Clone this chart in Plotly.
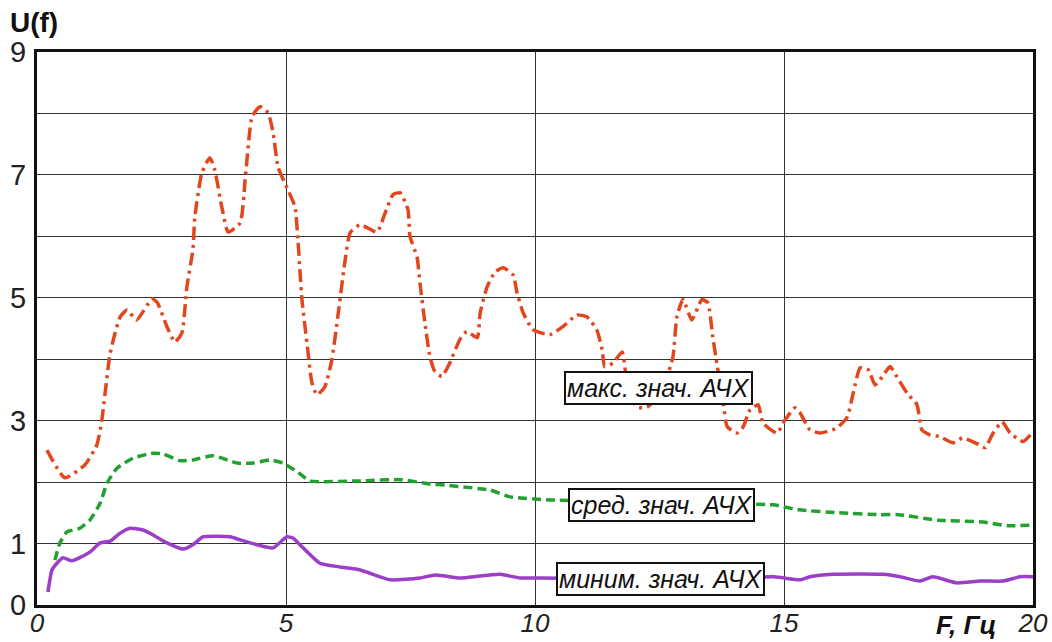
import plotly.graph_objects as go

# Frequency response envelopes U(f) vs frequency F (Hz)
max_f = [0.2, 0.56, 0.96, 1.2, 1.3, 1.47, 1.67, 1.81, 2.0, 2.31, 2.41, 2.61, 2.77, 2.91, 3.01,
         3.13, 3.17, 3.31, 3.47, 3.57, 3.71, 3.84, 4.08, 4.18, 4.32, 4.48, 4.64, 4.74, 4.84,
         5.02, 5.18, 5.24, 5.32, 5.42, 5.52, 5.62, 5.78, 5.92, 6.04, 6.18, 6.29, 6.49, 6.83,
         6.99, 7.15, 7.29, 7.45, 7.49, 7.63, 7.69, 7.79, 7.89, 7.99, 8.13, 8.29, 8.49, 8.63,
         8.84, 8.9, 9.04, 9.2, 9.36, 9.56, 9.64, 9.76, 9.96, 10.3, 10.56, 10.84, 11.04, 11.24,
         11.35, 11.4, 11.57, 11.75, 11.85, 12.05, 12.25, 12.45, 12.65, 12.77, 12.85, 12.97,
         13.15, 13.35, 13.47, 13.57, 13.65, 13.78, 13.86, 14.06, 14.18, 14.32, 14.48, 14.58,
         14.86, 15.02, 15.22, 15.32, 15.52, 15.72, 16.06, 16.27, 16.39, 16.53, 16.69, 16.83,
         16.97, 17.13, 17.27, 17.47, 17.67, 17.77, 17.93, 18.13, 18.39, 18.59, 18.94, 19.04,
         19.2, 19.38, 19.54, 19.8, 20.0]
max_u = [2.52, 2.07, 2.28, 2.6, 3.0, 4.1, 4.69, 4.8, 4.64, 4.98, 4.93, 4.53, 4.28, 4.43, 5.18,
         5.78, 6.32, 7.03, 7.28, 7.08, 6.48, 6.07, 6.22, 6.92, 7.95, 8.11, 8.01, 7.69, 7.13,
         6.79, 6.48, 5.94, 4.97, 4.27, 3.62, 3.42, 3.55, 3.99, 4.69, 5.57, 6.06, 6.19, 6.07,
         6.38, 6.68, 6.71, 6.43, 6.0, 5.67, 5.24, 4.59, 4.04, 3.8, 3.72, 3.94, 4.32, 4.45,
         4.35, 4.76, 5.18, 5.42, 5.49, 5.37, 5.08, 4.76, 4.48, 4.4, 4.53, 4.72, 4.69, 4.48,
         4.15, 3.88, 3.94, 4.12, 3.6, 3.22, 3.22, 3.39, 3.71, 4.04, 4.69, 4.97,
         4.64, 4.97, 4.92, 4.36, 3.94, 3.29, 2.9, 2.8, 2.9, 3.18, 3.26, 2.96,
         2.8, 3.01, 3.21, 3.13, 2.85, 2.8, 2.88, 3.06, 3.45, 3.86, 3.83, 3.58,
         3.71, 3.88, 3.71, 3.45, 3.26, 2.85, 2.77, 2.74, 2.64, 2.72, 2.6, 2.56,
         2.8, 2.98, 2.8, 2.66, 2.82]

avg_f = [0.36, 0.46, 0.6, 0.86, 1.06, 1.27, 1.41, 1.61, 1.93, 2.33, 2.53, 2.87, 3.13, 3.53,
         4.02, 4.34, 4.68, 4.94, 5.22, 5.48, 6.5, 7.3, 7.9, 8.2, 9.1, 9.5, 10.3, 11.5, 12.5,
         13.5, 14.78, 15.3, 16.1, 16.9, 17.3, 18.1, 19.0, 19.5, 20.0]
avg_u = [0.73, 1.01, 1.19, 1.25, 1.38, 1.66, 1.99, 2.23, 2.39, 2.47, 2.46, 2.35, 2.36, 2.43,
         2.31, 2.31, 2.36, 2.31, 2.17, 2.02, 2.02, 2.04, 1.97, 1.95, 1.87, 1.76, 1.71, 1.69, 1.67,
         1.65, 1.63, 1.55, 1.5, 1.47, 1.47, 1.38, 1.35, 1.29, 1.3]

min_f = [0.22, 0.3, 0.4, 0.52, 0.7, 0.86, 1.06, 1.27, 1.47, 1.67, 1.87, 2.13, 2.33, 2.61, 2.93,
         3.13, 3.33, 3.61, 3.88, 4.08, 4.42, 4.74, 5.02, 5.14, 5.28, 5.68, 6.08, 6.49, 7.09,
         7.69, 8.0, 8.5, 9.1, 9.3, 9.7, 10.1, 11.0, 12.0, 13.0, 14.0, 14.8, 15.32, 15.52,
         15.98, 16.99, 17.33, 17.73, 17.99, 18.47, 18.94, 19.4, 19.74, 20.0]
min_u = [0.21, 0.57, 0.68, 0.77, 0.72, 0.77, 0.86, 1.01, 1.04, 1.17, 1.25, 1.22, 1.14, 1.01, 0.91,
         0.98, 1.11, 1.12, 1.11, 1.06, 0.98, 0.93, 1.11, 1.09, 0.98, 0.68, 0.62, 0.57, 0.41,
         0.44, 0.49, 0.44, 0.49, 0.5, 0.44, 0.44, 0.43, 0.42, 0.42, 0.44, 0.46, 0.41, 0.46,
         0.5, 0.5, 0.46, 0.39, 0.46, 0.36, 0.39, 0.39, 0.46, 0.46]

y_ticks = list(range(0, 10))
y_ticktext = ["0", "1", "", "3", "", "5", "", "7", "", "9"]
x_ticks = [0, 5, 10, 15, 20]

curve_labels = ["макс. знач. АЧХ", "сред. знач. АЧХ", "миним. знач. АЧХ"]
label_pos = [(12.47, 3.53), (12.55, 1.63), (12.51, 0.42)]

FONT = "Liberation Sans, Arial"

fig = go.Figure()
fig.add_trace(go.Scatter(x=max_f, y=max_u, mode="lines",
                         line=dict(color="#E2461E", width=3.5, dash="13px,5px,3px,5px",
                                   shape="spline", smoothing=0.5)))
fig.add_trace(go.Scatter(x=avg_f, y=avg_u, mode="lines",
                         line=dict(color="#22A030", width=3.5, dash="9px,5px",
                                   shape="spline", smoothing=0.5)))
fig.add_trace(go.Scatter(x=min_f, y=min_u, mode="lines",
                         line=dict(color="#9A3FC6", width=3.5, shape="spline", smoothing=0.5)))

for text, (lx, ly) in zip(curve_labels, label_pos):
    fig.add_annotation(x=lx, y=ly, text=text, showarrow=False,
                       font=dict(family=FONT, size=25, color="#111", style="italic"),
                       bgcolor="white", bordercolor="#111", borderwidth=2, borderpad=1)

fig.add_annotation(xref="paper", yref="paper", x=-0.029, y=1.0, yshift=12,
                   xanchor="left", yanchor="bottom", showarrow=False, text="<b>U(f)</b>",
                   font=dict(family=FONT, size=28, color="#111"))
fig.add_annotation(xref="paper", yref="paper", x=0.9645, y=0, yshift=-37,
                   xanchor="right", yanchor="bottom", showarrow=False, text="<b><i>F, Гц</i></b>",
                   font=dict(family=FONT, size=26, color="#111"))

fig.update_layout(
    width=1052, height=642,
    margin=dict(l=37, r=19, t=52, b=37, autoexpand=False),
    plot_bgcolor="white", paper_bgcolor="white",
    showlegend=False,
    xaxis=dict(range=[0, 20], tickvals=x_ticks, ticktext=[str(v) for v in x_ticks],
               showgrid=True, gridcolor="#333", gridwidth=1.3, zeroline=False,
               showline=True, linecolor="#111", linewidth=3, mirror=True,
               ticks="", ticklabelstandoff=-7, automargin=False,
               tickfont=dict(family=FONT, size=26, color="#222", style="italic")),
    yaxis=dict(range=[0, 9], tickvals=y_ticks, ticktext=y_ticktext,
               showgrid=True, gridcolor="#333", gridwidth=1.3, zeroline=False,
               showline=True, linecolor="#111", linewidth=3, mirror=True,
               ticks="", ticklabelstandoff=2, automargin=False,
               tickfont=dict(family=FONT, size=29, color="#222")),
)

fig.write_html("out.html")
